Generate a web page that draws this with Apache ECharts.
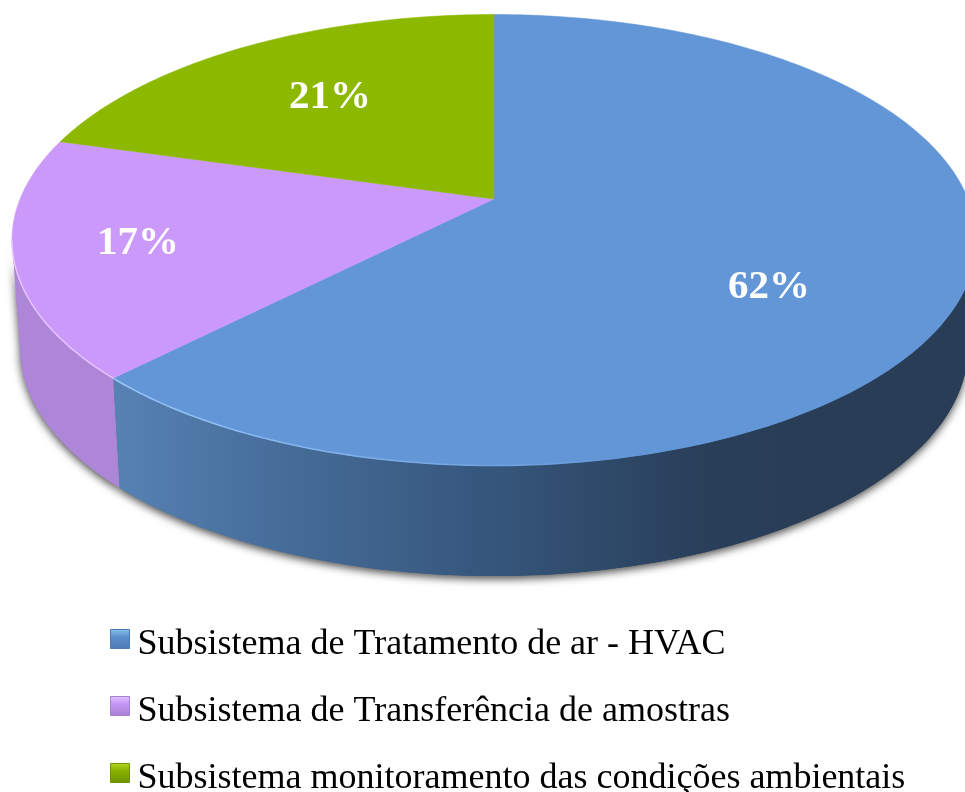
<!DOCTYPE html>
<html>
<head>
<meta charset="utf-8">
<style>
html,body{margin:0;padding:0;background:#fff;}
#main{width:965px;height:792px;}
</style>
<script src="https://cdn.jsdelivr.net/npm/echarts@6/dist/echarts.min.js"></script>
</head>
<body>
<div id="main"></div>
<script>
var names = ['Subsistema de Tratamento de ar - HVAC', 'Subsistema de Transferência de amostras', 'Subsistema monitoramento das condições ambientais'];
var values = [62, 17, 21];

var topColors = ['#6296D6', '#CB99FA', '#8CB800'];
var rimColors = ['#9CC8FA', '#E6C4FF', '#8CB800'];
var iconColors = [['#8CC4EE', '#5B8FCC', '#4C7BB2'], ['#E2C2FF', '#C596F4', '#A87FD2'], ['#B4D82A', '#86AF00', '#6F9300']];
var wallStops = [
	[[0, '#5681B3'], [0.27, '#446A96'], [0.56, '#35557A'], [0.85, '#293F5A'], [1, '#293D57']],
	[[0, '#AD86D8'], [1, '#A97ED0']],
	[[0, '#6F9300'], [1, '#6F9300']]
];
var labelPos = [[769, 287], [138, 243], [330, 97]];

// perspective of the disc: top rim, bottom rim, and where the centre lands
var topRim = {cx: 494, cy: 240, rx: 482, ry: 225.5};
var lowRim = {cx: 494, cy: 348, rx: 474, ry: 228};
var apex = [494, 199];
var tilt = 0.21;
// only this range of angles shows the wall
var frontFrom = 102, frontTo = 258;

function project(rim, deg){
	var t = deg * Math.PI / 180;
	var x0 = Math.sin(t), y0 = -Math.cos(t);
	var d = 1 - tilt * y0;
	var y1 = (y0 - tilt) / d;
	var x1 = x0 * Math.sqrt(1 - tilt * tilt) / d;
	return [rim.cx + rim.rx * x1, rim.cy + rim.ry * y1];
}
function arc(rim, from, to){
	var pts = [];
	var n = Math.max(2, Math.ceil(Math.abs(to - from)));
	for(var i = 0; i <= n; i++){
		pts.push(project(rim, from + (to - from) * i / n));
	}
	return pts;
}

var total = 0;
for(var i = 0; i < values.length; i++){
	total += values[i];
}
function startAngle(idx){
	var sum = 0;
	for(var j = 0; j < idx; j++){
		sum += values[j];
	}
	return sum / total * 360;
}
function wallGradient(idx){
	var stops = [];
	for(var k = 0; k < wallStops[idx].length; k++){
		stops.push({offset: wallStops[idx][k][0], color: wallStops[idx][k][1]});
	}
	return new echarts.graphic.LinearGradient(120, 0, 800, 0, stops, true);
}

function makeRender(idx){
	return function(params, api){
		var from = startAngle(idx);
		var to = from + api.value(0) / total * 360;
		var children = [];
		var a = Math.max(from, frontFrom), b = Math.min(to, frontTo);
		if(b > a){
			var wall = arc(topRim, a, b).concat(arc(lowRim, b, a));
			var fill = wallGradient(idx);
			children.push({
				type: 'polygon', z2: 0, silent: true,
				shape: {points: wall},
				style: {fill: fill, shadowBlur: 8, shadowOffsetY: 3, shadowColor: 'rgba(0,0,0,0.7)'}
			});
			children.push({
				type: 'polygon', z2: 1, silent: true,
				shape: {points: wall},
				style: {fill: fill}
			});
		}
		children.push({
			type: 'polygon', z2: 10,
			shape: {points: [apex].concat(arc(topRim, from, to))},
			style: {fill: topColors[idx], stroke: topColors[idx], lineWidth: 0.5}
		});
		if(b > a){
			children.push({
				type: 'polyline', z2: 11, silent: true,
				shape: {points: arc(topRim, a, b)},
				style: {
					fill: null, lineWidth: 1.5,
					stroke: new echarts.graphic.LinearGradient(100, 0, 640, 0, [
						{offset: 0, color: rimColors[idx]},
						{offset: 1, color: topColors[idx]}
					], true)
				}
			});
		}
		children.push({
			type: 'text', z2: 20, silent: true,
			style: {
				text: api.value(0) + '%',
				x: labelPos[idx][0], y: labelPos[idx][1],
				fill: '#fff', font: 'bold 41px "Liberation Serif"',
				align: 'center', verticalAlign: 'middle'
			}
		});
		return {type: 'group', children: children};
	};
}

var seriesList = [];
var legendData = [];
for(var s = 0; s < names.length; s++){
	seriesList.push({
		type: 'custom',
		name: names[s],
		coordinateSystem: 'none',
		renderItem: makeRender(s),
		itemStyle: {color: topColors[s]},
		data: [[values[s]]]
	});
	legendData.push({
		name: names[s],
		icon: 'rect',
		itemStyle: {
			color: new echarts.graphic.LinearGradient(0, 0, 0, 1, [
				{offset: 0, color: iconColors[s][0]},
				{offset: 0.4, color: iconColors[s][1]},
				{offset: 1, color: iconColors[s][2]}
			]),
			borderColor: iconColors[s][2],
			borderWidth: 1
		}
	});
}

var chart = echarts.init(document.getElementById('main'), null, {renderer: 'canvas'});
chart.setOption({
	animation: false,
	backgroundColor: '#fff',
	legend: {
		orient: 'vertical',
		left: 110,
		top: 615,
		height: 400,
		padding: 0,
		itemWidth: 19,
		itemHeight: 19,
		itemGap: 19,
		selectedMode: false,
		formatter: function(name){
			return '{t|' + name + '}';
		},
		textStyle: {
			rich: {
				t: {
					color: '#000',
					fontFamily: '"Liberation Serif"',
					fontSize: 36,
					lineHeight: 20,
					padding: [12, 0, 0, 3]
				}
			}
		},
		data: legendData
	},
	series: seriesList
});
</script>
</body>
</html>
